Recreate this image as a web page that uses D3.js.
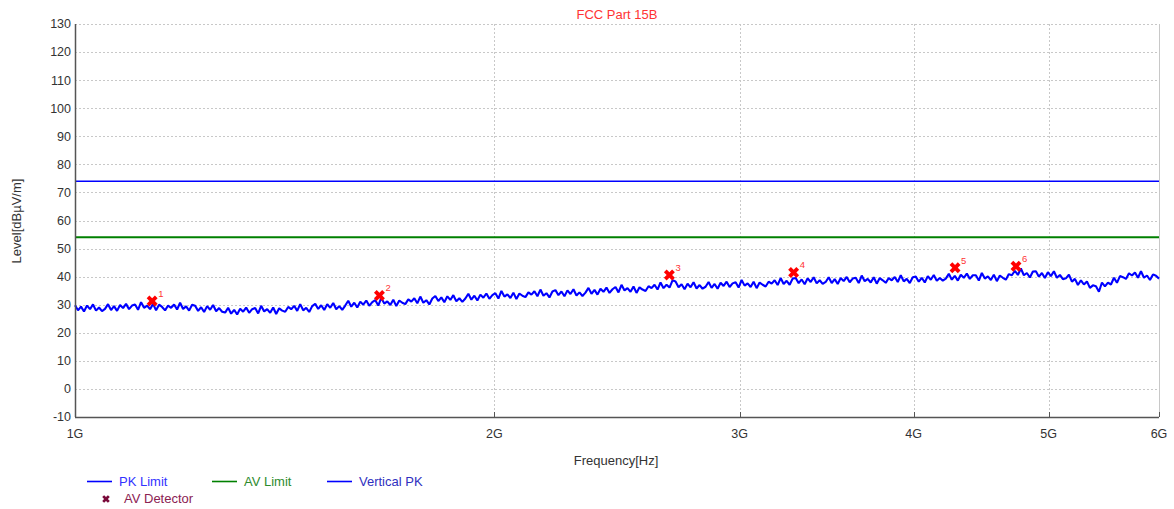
<!DOCTYPE html>
<html>
<head>
<meta charset="utf-8">
<script src="https://cdn.jsdelivr.net/npm/d3@7"></script>
<style>
  body { margin: 0; background: #fff; }
  text { font-family: "Liberation Sans", Arial, sans-serif; }
</style>
</head>
<body>
<div class="chart"></div>
<script>
// sweep definition (receiver frequency grid, log spaced across the span)
var sweepStart = 1e9, sweepStop = 6e9;

// Vertical PK trace levels in dBuV/m, one per sweep point
var vertPK = [
  29.8,28.0,29.3,27.6,29.7,28.4,30.1,27.9,29.0,27.7,
  28.5,30.2,28.1,29.5,27.8,29.9,28.8,30.3,28.4,29.7,
  30.1,28.2,30.9,28.9,29.7,28.4,30.3,28.0,30.0,29.2,
  28.0,29.7,28.9,30.1,28.3,30.7,28.5,29.4,27.9,30.0,
  29.6,27.8,29.1,27.4,29.5,28.2,29.9,27.7,28.8,27.5,
  27.2,28.9,26.8,28.2,26.5,28.6,27.5,29.0,27.1,28.4,
  28.8,26.9,29.6,27.6,28.4,27.1,29.0,26.7,28.7,27.9,
  27.5,29.2,28.4,29.6,27.8,30.2,28.0,28.9,27.4,29.5,
  30.3,28.5,29.8,28.1,30.2,28.9,30.6,28.4,29.5,28.2,
  29.7,31.4,29.3,30.7,29.0,31.1,30.0,31.5,29.6,30.9,
  31.6,29.7,32.4,30.4,31.2,29.9,31.8,29.5,31.5,30.7,
  30.2,31.9,31.1,32.3,30.5,32.9,30.7,31.6,30.1,32.2,
  33.1,31.3,32.6,30.9,33.0,31.7,33.4,31.2,32.3,31.0,
  32.2,33.9,31.8,33.2,31.5,33.6,32.5,34.0,32.1,33.4,
  34.1,32.2,34.9,32.9,33.7,32.4,34.3,32.0,34.0,33.2,
  32.7,34.4,33.6,34.8,33.0,35.4,33.2,34.1,32.6,34.7,
  35.2,33.4,34.7,33.0,35.1,33.8,35.5,33.3,34.4,33.1,
  34.3,36.0,33.9,35.3,33.6,35.7,34.6,36.1,34.2,35.5,
  36.3,34.4,37.1,35.1,35.9,34.6,36.5,34.2,36.2,35.4,
  34.9,36.6,35.9,37.1,35.4,37.9,35.9,37.1,36.1,38.7,
  38.3,36.2,37.3,35.5,37.5,36.2,38.0,35.8,37.0,35.7,
  36.4,38.1,36.0,37.4,35.7,37.8,36.7,38.2,36.3,37.6,
  38.0,36.1,38.8,36.8,37.6,36.3,38.2,35.9,37.9,37.1,
  36.5,38.2,37.5,38.7,37.0,39.5,37.4,38.5,37.1,39.3,
  39.5,37.7,39.0,37.3,39.4,38.1,39.8,37.6,38.7,37.4,
  38.1,39.8,37.7,39.1,37.4,39.5,38.4,39.9,38.0,39.3,
  39.6,37.7,40.4,38.4,39.2,37.9,39.8,37.5,39.5,38.7,
  37.8,39.5,38.7,39.9,38.1,40.5,38.3,39.2,37.7,39.8,
  40.0,38.2,39.6,37.9,40.2,38.9,40.6,38.5,39.5,38.6,
  39.3,41.0,38.9,40.3,38.6,40.7,39.6,41.1,39.2,40.5,
  40.5,38.6,41.3,39.3,40.1,38.8,40.7,38.4,40.4,39.6,
  38.9,40.9,40.5,42.1,40.6,42.9,40.5,41.3,39.7,41.8,
  41.9,40.0,41.3,39.5,41.6,40.2,41.9,39.6,40.6,39.1,
  39.4,40.7,38.2,39.2,37.0,38.7,37.2,38.3,36.0,36.9,
  36.6,34.6,37.9,36.5,37.9,37.2,39.6,37.8,40.2,39.8,
  39.2,41.2,40.4,41.5,39.6,41.9,39.6,40.4,38.8,40.8,
  40.3,39.3
];

// limit lines
var pkLimitFreq = [1e9, 6e9], pkLimitLevel = [74, 74];
var avLimitFreq = [1e9, 6e9], avLimitLevel = [54, 54];

// AV detector final measurements
var avFreq  = [1.136e9, 1.654e9, 2.671e9, 3.280e9, 4.283e9, 4.737e9];
var avLevel = [31.3, 33.3, 40.6, 41.5, 43.2, 43.7];
var avLabel = ["1", "2", "3", "4", "5", "6"];

// axes
var xTickVals = [1e9, 2e9, 3e9, 4e9, 5e9, 6e9];
var xTickText = ["1G", "2G", "3G", "4G", "5G", "6G"];
var yTickVals = [-10, 0, 10, 20, 30, 40, 50, 60, 70, 80, 90, 100, 110, 120, 130];

var margin = { top: 24, right: 15, bottom: 92, left: 75 },
	width = 1174 - margin.left - margin.right,
	height = 509 - margin.top - margin.bottom;

var svg = d3.select(".chart").append("svg")
	.attr("width", 1174)
	.attr("height", 509);

var g = svg.append("g")
	.attr("transform", "translate(" + margin.left + "," + margin.top + ")");

var x = d3.scaleLog().domain([sweepStart, sweepStop]).range([0, width]);
var y = d3.scaleLinear().domain([-10, 130]).range([height, 0]);

// sweep grid for the trace
var n = vertPK.length;
var traceData = vertPK.map(function (v, i) {
	return { f: sweepStart * Math.pow(sweepStop / sweepStart, i / (n - 1)), v: v };
});

// grid
g.append("g").selectAll("line")
	.data(yTickVals.filter(function (d) { return d > -10; }))
	.enter().append("line")
	.attr("x1", 0).attr("x2", width)
	.attr("y1", function (d) { return Math.round(y(d)) + 0.5; })
	.attr("y2", function (d) { return Math.round(y(d)) + 0.5; })
	.attr("stroke", "#c8c8c8")
	.attr("stroke-dasharray", "2,2");

g.append("g").selectAll("line")
	.data(xTickVals.slice(1, 5))
	.enter().append("line")
	.attr("x1", function (d) { return Math.round(x(d)) + 0.5; })
	.attr("x2", function (d) { return Math.round(x(d)) + 0.5; })
	.attr("y1", 0).attr("y2", height)
	.attr("stroke", "#c8c8c8")
	.attr("stroke-dasharray", "2,2");

// right border
g.append("line")
	.attr("x1", width + 0.5).attr("x2", width + 0.5)
	.attr("y1", 0).attr("y2", height)
	.attr("stroke", "#c8c8c8");

// limit lines
var line = d3.line()
	.x(function (d) { return x(d.f); })
	.y(function (d) { return y(d.v); });

function pairs(fs, vs) {
	return fs.map(function (f, i) { return { f: f, v: vs[i] }; });
}

g.append("path")
	.datum(pairs(avLimitFreq, avLimitLevel))
	.attr("d", line)
	.attr("fill", "none")
	.attr("stroke", "#008000")
	.attr("stroke-width", 2);

g.append("path")
	.datum(pairs(pkLimitFreq, pkLimitLevel))
	.attr("d", line)
	.attr("fill", "none")
	.attr("stroke", "#0000ff")
	.attr("stroke-width", 1.6);

// trace
g.append("path")
	.datum(traceData)
	.attr("d", line)
	.attr("fill", "none")
	.attr("stroke", "#0000ff")
	.attr("stroke-width", 2.1)
	.attr("stroke-linejoin", "bevel");

// axes
g.append("line")
	.attr("x1", 0.5).attr("x2", 0.5)
	.attr("y1", 0).attr("y2", height)
	.attr("stroke", "#555").attr("stroke-width", 1.5);
g.append("line")
	.attr("x1", 0).attr("x2", width)
	.attr("y1", height + 0.5).attr("y2", height + 0.5)
	.attr("stroke", "#555").attr("stroke-width", 1.5);

// bottom ticks pointing inside
g.append("g").selectAll("line")
	.data(xTickVals)
	.enter().append("line")
	.attr("x1", function (d) { return Math.round(x(d)) + 0.5; })
	.attr("x2", function (d) { return Math.round(x(d)) + 0.5; })
	.attr("y1", height - 5).attr("y2", height)
	.attr("stroke", "#555");

g.append("g").selectAll("text")
	.data(xTickVals)
	.enter().append("text")
	.attr("x", function (d) { return x(d); })
	.attr("y", height + 21)
	.attr("text-anchor", "middle")
	.style("font-size", "12.5px")
	.style("fill", "#333")
	.text(function (d, i) { return xTickText[i]; });

g.append("g").selectAll("text")
	.data(yTickVals)
	.enter().append("text")
	.attr("x", -4)
	.attr("y", function (d) { return y(d); })
	.attr("dy", "0.35em")
	.attr("text-anchor", "end")
	.style("font-size", "12.5px")
	.style("fill", "#333")
	.text(function (d) { return d; });

// titles
svg.append("text")
	.attr("x", 617).attr("y", 19)
	.attr("text-anchor", "middle")
	.style("font-size", "13px")
	.style("fill", "#ff3333")
	.text("FCC Part 15B");

svg.append("text")
	.attr("x", 616).attr("y", 465)
	.attr("text-anchor", "middle")
	.style("font-size", "13px")
	.style("fill", "#333")
	.text("Frequency[Hz]");

svg.append("text")
	.attr("transform", "translate(21,221) rotate(-90)")
	.attr("text-anchor", "middle")
	.style("font-size", "13px")
	.style("fill", "#333")
	.text("Level[dBµV/m]");

// AV detector markers
var marker = d3.symbol().type(d3.symbolCross).size(75);
var av = g.append("g").selectAll("g")
	.data(avFreq)
	.enter().append("g")
	.attr("transform", function (d, i) {
		return "translate(" + x(d) + "," + y(avLevel[i]) + ")";
	});
av.append("path")
	.attr("d", marker)
	.attr("transform", "rotate(45)")
	.attr("fill", "#ff0000");
av.append("text")
	.attr("x", 6).attr("y", -4)
	.style("font-size", "9.5px")
	.style("fill", "#ff3333")
	.text(function (d, i) { return avLabel[i]; });

// legend
var legend = svg.append("g");
var legendLines = [
	{ name: "PK Limit", x: 87, color: "#0000ff", text: "#3333ff" },
	{ name: "AV Limit", x: 212, color: "#008000", text: "#2e8b2e" },
	{ name: "Vertical PK", x: 327, color: "#0000ff", text: "#3030c0" }
];
legendLines.forEach(function (d) {
	legend.append("line")
		.attr("x1", d.x).attr("x2", d.x + 25)
		.attr("y1", 481.5).attr("y2", 481.5)
		.attr("stroke", d.color).attr("stroke-width", 1.6);
	legend.append("text")
		.attr("x", d.x + 32).attr("y", 486)
		.style("font-size", "13px")
		.style("fill", d.text)
		.text(d.name);
});
legend.append("path")
	.attr("d", d3.symbol().type(d3.symbolCross).size(36))
	.attr("transform", "translate(106,499) rotate(45)")
	.attr("fill", "#7a0a3a");
legend.append("text")
	.attr("x", 124).attr("y", 503)
	.style("font-size", "13px")
	.style("fill", "#8b2252")
	.text("AV Detector");
</script>
</body>
</html>
